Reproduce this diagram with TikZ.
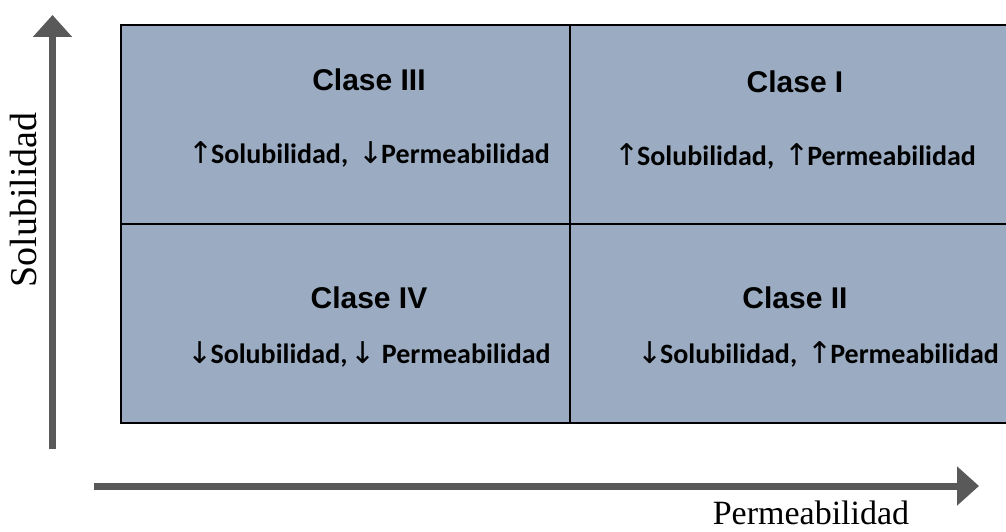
\documentclass[tikz,border=0pt]{standalone}
\usepackage{fontspec}
\setmainfont{Liberation Serif}
\newfontfamily\titlefont{Liberation Sans}
\newfontfamily\subfont{Carlito}
\newfontfamily\symfont{DejaVu Sans}
\usetikzlibrary{arrows.meta}
\definecolor{cellfill}{HTML}{9BACC2}
\definecolor{axisgray}{HTML}{595959}
\tikzset{
  axisline/.style={draw=axisgray, line width=7pt, -{Triangle[length=22pt,width=38pt]}},
  gridline/.style={draw=black, line width=2.5pt},
  classtitle/.style={font=\titlefont\bfseries\fontsize{30}{36}\selectfont, inner sep=0pt},
  classsub/.style={font=\subfont\bfseries\fontsize{28}{32}\selectfont, inner sep=0pt},
  axislabel/.style={font=\fontsize{34}{40}\selectfont, inner sep=0pt},
}
\newcommand{\up}{{\symfont\mdseries\fontsize{30}{32}\selectfont\char"2191}\kern-2pt}
\newcommand{\dn}{{\symfont\mdseries\fontsize{30}{32}\selectfont\char"2193}\kern-2pt}
\begin{document}
\begin{tikzpicture}[x=1pt,y=1pt]
\useasboundingbox (0,0) rectangle (1006,531);
\begin{scope}
\clip (0,0) rectangle (1006,531);
\fill[cellfill] (121,506) rectangle (1012,108);
\draw[gridline] (1012,506) -- (121,506) -- (121,108) -- (1012,108);
\draw[gridline] (121,307) -- (1012,307);
\draw[gridline] (570,506) -- (570,108);
\end{scope}
% class labels
\node[classtitle] (t3) at (369,451) {Clase III};
\node[classtitle] (t1) at (795,449) {Clase I};
\node[classtitle] (t4) at (369,233) {Clase IV};
\node[classtitle] (t2) at (795,233) {Clase II};
\node[classsub] (s3) at (369,377) {\up Solubilidad,\kern10pt\dn Permeabilidad};
\node[classsub] (s1) at (795,375) {\up Solubilidad,\kern10pt\up Permeabilidad};
\node[classsub] (s4) at (369,177) {\dn Solubilidad,\kern3pt\dn\kern2pt\ Permeabilidad};
\node[classsub] (s2) at (818,177) {\dn Solubilidad,\kern10pt\up Permeabilidad};
% axes
\coordinate (ybot) at (52.5,82);
\coordinate (ytop) at (52.5,516);
\coordinate (xleft) at (94,45);
\coordinate (xright) at (979,45);
\draw[axisline] (ybot) -- (ytop);
\draw[axisline] (xleft) -- (xright);
\node[axislabel, rotate=90, font=\fontsize{38}{42}\selectfont] (ylab) at (24,331) {Solubilidad};
\node[axislabel, anchor=base] (xlab) at (811,7) {Permeabilidad};
\end{tikzpicture}
\end{document}
